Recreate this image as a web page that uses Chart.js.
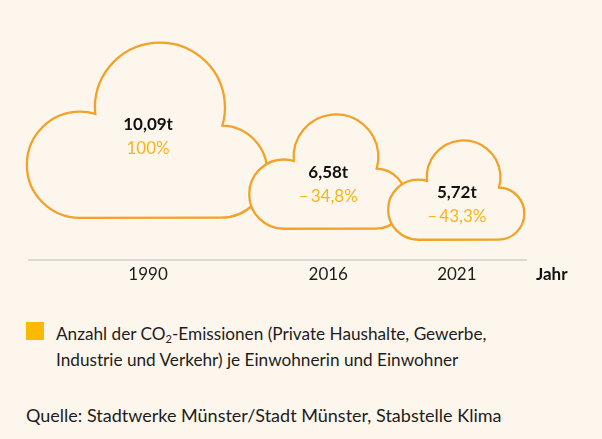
<!DOCTYPE html>
<html lang="de">
<head>
<meta charset="utf-8">
<title>CO2-Emissionen je Einwohner</title>
<script src="https://cdn.jsdelivr.net/npm/chart.js@4.4.1/dist/chart.umd.min.js"></script>
<style>
  html,body{margin:0;padding:0}
  body{width:602px;height:439px;background:#fdf6ec;font-family:Lato,'Open Sans',sans-serif;color:#1d1d1d;position:relative;overflow:hidden}
  .chart-box{position:absolute;left:0;top:0;width:602px;height:300px}
  .legend-swatch{position:absolute;left:26px;top:322px;width:18px;height:18px;background:#fbb900}
  .legend-text{position:absolute;left:56px;top:321px;font-size:17.2px;line-height:26px;white-space:nowrap}
  .legend-text sub{font-size:11px;line-height:0;vertical-align:-3px}
  .source{position:absolute;left:26px;top:402px;font-size:18px;line-height:26px;white-space:nowrap}
</style>
</head>
<body>
<div class="chart-box"><canvas id="co2Chart"></canvas></div>
<div class="legend-swatch"></div>
<div class="legend-text">Anzahl der CO<sub>2</sub>-Emissionen (Private Haushalte, Gewerbe,<br>Industrie und Verkehr) je Einwohnerin und Einwohner</div>
<div class="source">Quelle: Stadtwerke Münster/Stadt Münster, Stabstelle Klima</div>
<script>
'use strict';
const years = ['1990', '2016', '2021'];
const tonnes = [10.09, 6.58, 5.72];

const BG = '#fdf6ec';
const STROKE = '#f3a128';
const PCT_COLOR = '#f7b51c';
const OVERLAP = 0.7;          // clouds overlap a little, in tonnes along x
const LIFT = [42, 31, 20];    // px between axis line and cloud bottom

// cloud width on x follows the value; centres are laid out side by side
const centers = [];
tonnes.reduce((acc, v) => { centers.push(acc + v / 2); return acc + v - OVERLAP; }, 0);
const xMax = centers[centers.length - 1] + tonnes[tonnes.length - 1] / 2 + 0.07;

const fmt = (n, d) => n.toFixed(d).replace('.', ',');
const pctLabel = i => i === 0 ? '100%'
  : '\u2013\u2009' + fmt(Math.abs((tonnes[i] / tonnes[0] - 1) * 100), 1) + '%';

// cloud outline in units of its width: left, big top and right bump
const L = { x: 0.214, y: 0.513, r: 0.223 };
const B = { x: 0.550, y: 0.273, r: 0.273 };
const R = { x: 0.807, y: 0.542, r: 0.193 };
const ASPECT = 0.735;

function upperHit(a, b) {
  const dx = b.x - a.x, dy = b.y - a.y, d = Math.hypot(dx, dy);
  const k = (a.r * a.r - b.r * b.r + d * d) / (2 * d);
  const h = Math.sqrt(Math.max(0, a.r * a.r - k * k));
  const px = a.x + k * dx / d, py = a.y + k * dy / d;
  const p1 = { x: px - h * dy / d, y: py + h * dx / d };
  const p2 = { x: px + h * dy / d, y: py - h * dx / d };
  return p1.y < p2.y ? p1 : p2;
}
const LB = upperHit(L, B), BR = upperHit(B, R);
const ang = (c, p) => Math.atan2(p.y - c.y, p.x - c.x);

function cloudPath(ctx, left, top, w) {
  const X = v => left + v * w, Y = v => top + v * w;
  ctx.beginPath();
  ctx.moveTo(X(L.x), Y(L.y + L.r));
  ctx.arc(X(L.x), Y(L.y), L.r * w, Math.PI / 2, ang(L, LB), false);
  ctx.arc(X(B.x), Y(B.y), B.r * w, ang(B, LB), ang(B, BR), false);
  ctx.arc(X(R.x), Y(R.y), R.r * w, ang(R, BR), Math.PI / 2, false);
  ctx.closePath();
}

const cloudPlugin = {
  id: 'clouds',
  afterDatasetsDraw(chart) {
    const { ctx, chartArea, scales: { x } } = chart;
    const unit = x.getPixelForValue(1) - x.getPixelForValue(0);
    ctx.save();
    chart.getDatasetMeta(0).data.forEach((pt, i) => {
      const w = tonnes[i] * unit, h = w * ASPECT;
      const top = chartArea.bottom - LIFT[i] - h;
      cloudPath(ctx, pt.x - w / 2, top, w);
      ctx.fillStyle = BG;
      ctx.fill();
      ctx.lineWidth = 2.3;
      ctx.strokeStyle = STROKE;
      ctx.stroke();
      const ty = top + 0.393 * h + 13;
      ctx.textAlign = 'center';
      ctx.textBaseline = 'middle';
      ctx.fillStyle = '#111';
      ctx.font = 'bold 17px Lato';
      ctx.fillText(fmt(tonnes[i], 2) + 't', pt.x, ty);
      ctx.fillStyle = PCT_COLOR;
      ctx.font = '17px Lato';
      ctx.fillText(pctLabel(i), pt.x, ty + 24);
    });
    // axis name to the right of the line
    ctx.fillStyle = '#111';
    ctx.font = 'bold 17px Lato';
    ctx.textAlign = 'left';
    ctx.fillText('Jahr', chartArea.right + 10, chartArea.bottom + 15);
    ctx.restore();
  }
};

new Chart(document.getElementById('co2Chart'), {
  type: 'scatter',
  data: {
    datasets: [{
      label: 'CO2 je Einwohner (t)',
      data: tonnes.map((v, i) => ({ x: centers[i], y: v })),
      pointRadius: 0
    }]
  },
  options: {
    responsive: true,
    maintainAspectRatio: false,
    animation: false,
    layout: { padding: { left: 29, right: 76, top: 10, bottom: 10 } },
    plugins: { legend: { display: false }, tooltip: { enabled: false } },
    scales: {
      x: {
        type: 'linear', min: 0, max: xMax, bounds: 'data',
        afterBuildTicks: s => { s.ticks = centers.map(v => ({ value: v })); },
        grid: { display: false, drawTicks: false },
        border: { display: true, color: '#dddad5', width: 2 },
        ticks: {
          autoSkip: false, padding: 5, color: '#1d1d1d',
          font: { family: 'Lato', size: 17 },
          callback: (v, i) => years[i]
        }
      },
      y: { display: false, min: 0, max: 14 }
    }
  },
  plugins: [cloudPlugin]
});
</script>
</body>
</html>
